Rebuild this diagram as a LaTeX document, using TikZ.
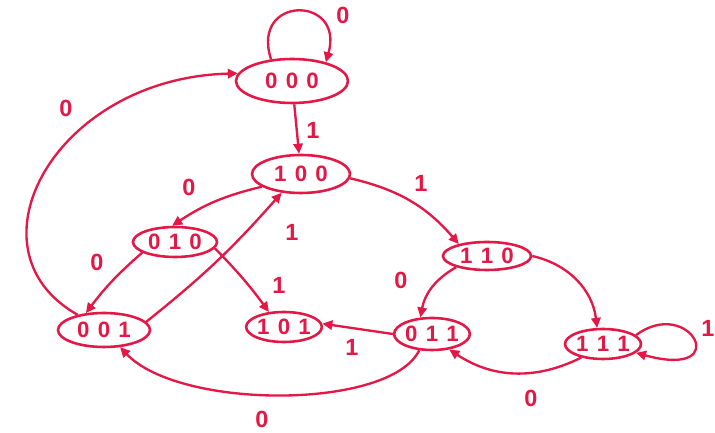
\documentclass[tikz,border=0pt]{standalone}
\usepackage{fontspec}
\setmainfont{Liberation Sans}
\usetikzlibrary{shapes.geometric,arrows.meta}
\definecolor{crim}{RGB}{228,24,70}
\newcommand\trip[3]{#1\hspace{7pt}#2\hspace{7pt}#3}
\begin{document}
\begin{tikzpicture}[x=0.03cm,y=-0.03cm,
  state/.style={ellipse,draw=crim,line width=2.2pt,text=crim,inner sep=0pt,
    font=\bfseries\fontsize{19}{19}\selectfont},
  edge/.style={draw=crim,line width=2pt,-{Triangle[length=0.3cm,width=0.28cm]}},
  lbl/.style={text=crim,font=\bfseries\fontsize{20}{20}\selectfont}]
\useasboundingbox (0,0) rectangle (715,433);
\fill[white] (0,0) rectangle (715,433);
% states
\node[state,minimum width=3.36cm,minimum height=1.32cm] (n000) at (292,81) {\trip000};
\node[state,minimum width=2.94cm,minimum height=1.14cm] (n100) at (301,174) {\trip100};
\node[state,minimum width=2.52cm,minimum height=0.9cm] (n010) at (175,242) {\trip010};
\node[state,minimum width=2.64cm,minimum height=0.84cm] (n110) at (487,256) {\trip110};
\node[state,minimum width=2.76cm,minimum height=1.02cm] (n001) at (104,330) {\trip001};
\node[state,minimum width=2.1cm,minimum height=0.9cm] (n101) at (284,327) {\trip101};
\node[state,minimum width=1.98cm,minimum height=0.96cm] (n011) at (432,334) {\trip011};
\node[state,minimum width=2.28cm,minimum height=0.9cm] (n111) at (603,344) {\trip111};
% edges
\draw[edge] (n000.134) .. controls (250,-5) and (345,-5) .. (n000.29);
\node[lbl] (l1) at (343,15) {0};
\draw[edge] (n000) -- (n100);
\node[lbl] (l2) at (313,130) {1};
\draw[edge] (n100.198) to[bend right=10] (n010.100);
\node[lbl] (l3) at (189,187) {0};
\draw[edge] (n100.355) to[bend left=18] (n110.157);
\node[lbl] (l4) at (421,183) {1};
\draw[edge] (n010.198) to[bend right=6] (n001.137);
\node[lbl] (l5) at (97,262) {0};
\draw[edge] (n010.351) to[bend left=4] (n101.135);
\node[lbl] (l6) at (279,285) {1};
\draw[edge] (n001.11) to[bend right=5] (n100.224);
\node[lbl] (l7) at (292,232) {1};
\draw[edge] (n001.150) .. controls (-38,250) and (55,78) .. (n000.172);
\node[lbl] (l8) at (66,108) {0};
\draw[edge] (n110.200) to[bend right=25] (n011.125);
\node[lbl] (l9) at (401,280) {0};
\draw[edge] (n110.0) to[bend left=35] (n111.110);
\draw[edge] (n011.180) -- (n101.5);
\node[lbl] (l10) at (352,347) {1};
\draw[edge] (n111.212) to[bend left=30] (n011.318);
\node[lbl] (l11) at (531,398) {0};
\draw[edge] (n011.232) .. controls (390,410) and (180,410) .. (n001.313);
\node[lbl] (l12) at (262,419) {0};
\draw[edge] (n111.15) .. controls (690,295) and (735,380) .. (n111.345);
\node[lbl] (l13) at (708,328) {1};
\end{tikzpicture}
\end{document}
